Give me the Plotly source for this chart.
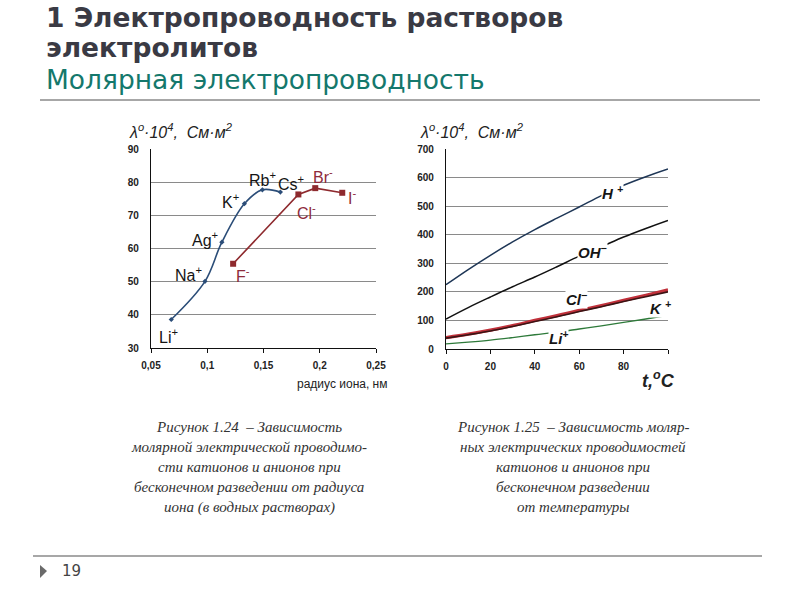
import plotly.graph_objects as go

# ---- data: left chart (ion radius vs molar conductivity) ----
cation_names = ["Li<sup>+</sup>", "Na<sup>+</sup>", "Ag<sup>+</sup>", "K<sup>+</sup>", "Rb<sup>+</sup>", "Cs<sup>+</sup>"]
cation_radius = [0.068, 0.098, 0.113, 0.133, 0.149, 0.165]
cation_lambda = [38.6, 50.1, 61.9, 73.5, 77.7, 77.0]

anion_names = ["F<sup>-</sup>", "Cl<sup>-</sup>", "Br<sup>-</sup>", "I<sup>-</sup>"]
anion_radius = [0.123, 0.181, 0.196, 0.220]
anion_lambda = [55.4, 76.3, 78.2, 76.8]

left_xticks = [0.05, 0.1, 0.15, 0.2, 0.25]
left_xticktext = ["0,05", "0,1", "0,15", "0,2", "0,25"]
left_yticks = [30, 40, 50, 60, 70, 80, 90]

# ---- data: right chart (temperature dependence) ----
temp = [0, 10, 20, 30, 40, 50, 60, 70, 80, 90, 100]
h_plus = [225, 278, 328, 375, 418, 458, 497, 537, 573, 603, 630]
oh_minus = [105, 145, 182, 218, 252, 288, 325, 358, 392, 422, 450]
cl_minus = [40, 52, 66, 82, 100, 117, 135, 152, 170, 188, 207]
k_plus = [38, 50, 63, 79, 96, 113, 131, 148, 166, 183, 200]
li_plus = [18, 24, 31, 40, 50, 59, 70, 81, 93, 105, 118]

right_xticks = [0, 20, 40, 60, 80, 100]
right_xticktext = ["0", "20", "40", "60", "80", ""]
right_yticks = [0, 100, 200, 300, 400, 500, 600, 700]

W, H = 800, 600

def px(x):
    return x / W

def py(y):
    return 1 - y / H

fig = go.Figure()

blue = "#2b4d78"
dred = "#8e2a2e"

fig.add_trace(go.Scatter(x=cation_radius, y=cation_lambda, mode="lines+markers",
                         line=dict(color=blue, width=1.6, shape="spline", smoothing=1.0),
                         marker=dict(color=blue, size=4, symbol="diamond"),
                         xaxis="x", yaxis="y", showlegend=False))
fig.add_trace(go.Scatter(x=anion_radius, y=anion_lambda, mode="lines+markers",
                         line=dict(color=dred, width=1.6),
                         marker=dict(color=dred, size=6, symbol="square"),
                         xaxis="x", yaxis="y", showlegend=False))

fig.add_trace(go.Scatter(x=temp, y=li_plus, mode="lines", line=dict(color="#2e7a3a", width=1.4, shape="spline"),
                         xaxis="x2", yaxis="y2", showlegend=False))
fig.add_trace(go.Scatter(x=temp, y=cl_minus, mode="lines", line=dict(color="#c0303a", width=3.2, shape="spline"),
                         xaxis="x2", yaxis="y2", showlegend=False))
fig.add_trace(go.Scatter(x=temp, y=k_plus, mode="lines", line=dict(color="#3a1414", width=1.6, shape="spline"),
                         xaxis="x2", yaxis="y2", showlegend=False))
fig.add_trace(go.Scatter(x=temp, y=oh_minus, mode="lines", line=dict(color="#111111", width=1.5, shape="spline"),
                         xaxis="x2", yaxis="y2", showlegend=False))
fig.add_trace(go.Scatter(x=temp, y=h_plus, mode="lines", line=dict(color="#1e3656", width=1.5, shape="spline"),
                         xaxis="x2", yaxis="y2", showlegend=False))

tickfont = dict(family="Arial, Liberation Sans", size=10, color="#222222", weight="bold")
xaxis_common = dict(showline=True, linecolor="#111111", linewidth=1.2, ticks="outside",
                    ticklen=4, tickcolor="#111111", zeroline=False, tickfont=tickfont,
                    automargin=False, showgrid=False, ticklabelstandoff=4)
yaxis_common = dict(showline=True, linecolor="#111111", linewidth=1.2, ticks="",
                    zeroline=False, tickfont=tickfont, automargin=False,
                    showgrid=True, gridcolor="#8a8a8a", gridwidth=1.3, ticklabelstandoff=9)

fig.update_layout(
    width=W, height=H,
    margin=dict(l=0, r=0, t=0, b=0, pad=0, autoexpand=False),
    paper_bgcolor="white", plot_bgcolor="white",
    showlegend=False,
    xaxis=dict(domain=[px(151), px(376)], range=[0.05, 0.25], tickvals=left_xticks,
               ticktext=left_xticktext, anchor="y", **xaxis_common),
    yaxis=dict(domain=[py(348), py(149)], range=[30, 90], tickvals=left_yticks,
               anchor="x", **yaxis_common),
    xaxis2=dict(domain=[px(446), px(668)], range=[0, 100], tickvals=right_xticks,
                ticktext=right_xticktext, anchor="y2", **xaxis_common),
    yaxis2=dict(domain=[py(349), py(149)], range=[0, 700], tickvals=right_yticks,
                anchor="x2", **yaxis_common),
)

ann = []

# ion labels, left chart (pixel offsets from the data point)
cat_off = [(-3, -17), (-17, 7), (-17, 3), (-14, 3), (0, 11), (11, 9)]
for n, x, y, (dx, dy) in zip(cation_names, cation_radius, cation_lambda, cat_off):
    ann.append(dict(x=x, y=y, xref="x", yref="y", text=n, showarrow=False, xshift=dx, yshift=dy,
                    font=dict(family="Arial, Liberation Sans", size=16, color="#151515")))
an_off = [(10, -11), (8, -18), (8, 12), (10, -4)]
for n, x, y, (dx, dy) in zip(anion_names, anion_radius, anion_lambda, an_off):
    ann.append(dict(x=x, y=y, xref="x", yref="y", text=n, showarrow=False, xshift=dx, yshift=dy,
                    font=dict(family="Arial, Liberation Sans", size=16, color="#8e2a3a")))

# ion labels, right chart
rlabels = [("H <sup>+</sup>", 75, 547), ("OH<sup>−</sup>", 66, 342), ("Cl<sup>−</sup>", 59, 177),
           ("K <sup>+</sup>", 96.5, 147), ("Li<sup>+</sup>", 50.5, 40)]
for t, x, y in rlabels:
    ann.append(dict(x=x, y=y, xref="x2", yref="y2", text=t, showarrow=False, bgcolor="white",
                    borderpad=0,
                    font=dict(family="Arial, Liberation Sans", size=15, color="#151515", weight="bold", style="italic")))

# axis titles
ylab = "λ<sup>o</sup>·10<sup>4</sup>,  См·м<sup>2</sup>"
for xx in (127, 418):
    ann.append(dict(x=px(xx), y=py(131), xref="paper", yref="paper", text=ylab, showarrow=False,
                    xanchor="left", yanchor="middle",
                    font=dict(family="Arial, Liberation Sans", size=16, color="#222222", style="italic")))
ann.append(dict(x=px(389), y=py(384), xref="paper", yref="paper", text="радиус иона, нм", showarrow=False,
                xanchor="right", yanchor="middle",
                font=dict(family="Arial, Liberation Sans", size=12, color="#222222")))
ann.append(dict(x=px(658), y=py(379), xref="paper", yref="paper", text="t,<sup>o</sup>C", showarrow=False,
                xanchor="center", yanchor="middle",
                font=dict(family="Arial, Liberation Sans", size=18, color="#222222", weight="bold", style="italic")))

# captions
cap_font = dict(family="Liberation Serif, Times New Roman", size=15, color="#333333", style="italic")
cap_left = ["Рисунок 1.24  – Зависимость", "молярной электрической проводимо-",
            "сти катионов и анионов при", "бесконечном разведении от радиуса",
            "иона (в водных растворах)"]
cap_right = ["Рисунок 1.25  – Зависимость моляр-", "ных электрических проводимостей",
             "катионов и анионов при", "бесконечном разведении", "от температуры"]
for i, (a, b) in enumerate(zip(cap_left, cap_right)):
    yy = 427 + i * 20
    ann.append(dict(x=px(249), y=py(yy), xref="paper", yref="paper", text=a, showarrow=False,
                    xanchor="center", yanchor="middle", font=cap_font))
    ann.append(dict(x=px(573), y=py(yy), xref="paper", yref="paper", text=b, showarrow=False,
                    xanchor="center", yanchor="middle", font=cap_font))

# slide title
title_font = dict(family="DejaVu Sans", size=26.5, color="#3a3a44", weight="bold")
ann.append(dict(x=px(45), y=py(17.5), xref="paper", yref="paper", text="1 Электропроводность растворов",
                showarrow=False, xanchor="left", yanchor="middle", borderpad=0, font=title_font))
ann.append(dict(x=px(45), y=py(48), xref="paper", yref="paper", text="электролитов",
                showarrow=False, xanchor="left", yanchor="middle", borderpad=0, font=title_font))
ann.append(dict(x=px(45), y=py(80), xref="paper", yref="paper", text="Молярная электропроводность",
                showarrow=False, xanchor="left", yanchor="middle", borderpad=0,
                font=dict(family="DejaVu Sans", size=26.5, color="#14786c")))
ann.append(dict(x=px(60), y=py(571), xref="paper", yref="paper", text="19",
                showarrow=False, xanchor="left", yanchor="middle",
                font=dict(family="DejaVu Sans", size=15, color="#444444")))

fig.update_layout(annotations=ann)

fig.update_layout(shapes=[
    dict(type="line", xref="paper", yref="paper", x0=px(40), x1=px(760), y0=py(100), y1=py(100),
         line=dict(color="#8a8a8a", width=1.5)),
    dict(type="line", xref="paper", yref="paper", x0=px(33), x1=px(762), y0=py(556), y1=py(556),
         line=dict(color="#8a8a8a", width=1.5)),
    dict(type="path", xref="paper", yref="paper",
         path=f"M {px(40)},{py(565)} L {px(47)},{py(571)} L {px(40)},{py(578)} Z",
         fillcolor="#6a6a6a", line=dict(width=0)),
])

fig.write_html("out.html", config={"displayModeBar": False},
               post_script="document.body.style.margin='0';document.body.style.overflow='hidden';")
